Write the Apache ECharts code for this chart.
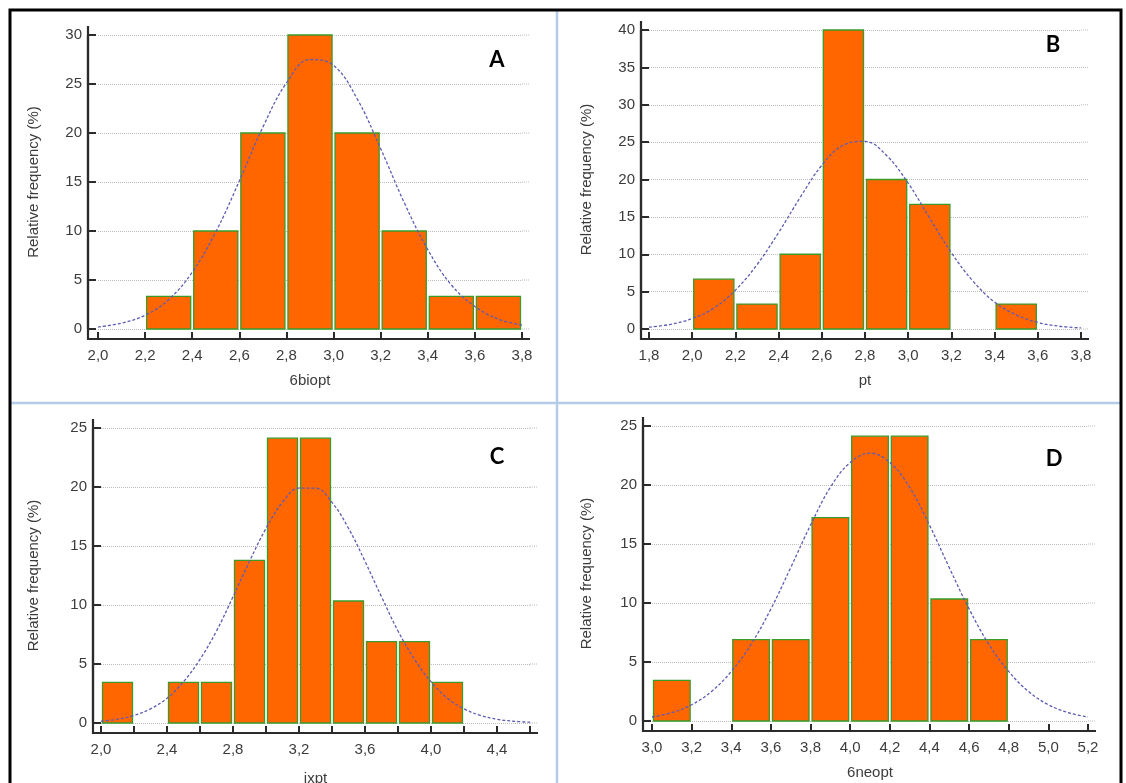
<!DOCTYPE html>
<html>
<head>
<meta charset="utf-8">
<script src="https://cdn.jsdelivr.net/npm/echarts@6/dist/echarts.min.js"></script>
<style>
html,body{margin:0;padding:0;background:#ffffff;}
#c{width:1126px;height:783px;}
</style>
</head>
<body>
<div id="c"></div>
<script>
// ---------------- DATA ----------------
var yAxisName = 'Relative frequency (%)';

// Panel A : 6biopt
var binStartsA = [2.2, 2.4, 2.6, 2.8, 3.0, 3.2, 3.4, 3.6];
var freqA      = [3.33, 10, 20, 30, 20, 10, 3.33, 3.33];
var curveXA = [2.0,2.1,2.2,2.3,2.4,2.5,2.6,2.7,2.8,2.9,3.0,3.1,3.2,3.3,3.4,3.5,3.6,3.7,3.8];
var curveYA = [0.2,0.6,1.4,3.0,5.8,9.9,15.1,20.6,25.1,27.5,26.9,23.5,18.4,12.9,8.1,4.5,2.3,1.0,0.4];

// Panel B : pt
var binStartsB = [2.0, 2.2, 2.4, 2.6, 2.8, 3.0, 3.4];
var freqB      = [6.67, 3.33, 10, 40, 20, 16.67, 3.33];
var curveXB = [1.8,1.9,2.0,2.1,2.2,2.3,2.4,2.5,2.6,2.7,2.8,2.9,3.0,3.1,3.2,3.3,3.4,3.5,3.6,3.7,3.8];
var curveYB = [0.26,0.62,1.4,2.8,5.2,8.6,12.9,17.6,21.9,24.6,25.1,23.2,19.5,14.8,10.2,6.4,3.6,1.9,0.87,0.37,0.14];

// Panel C : ixpt
var binStartsC = [2.0, 2.4, 2.6, 2.8, 3.0, 3.2, 3.4, 3.6, 3.8, 4.0];
var freqC      = [3.45, 3.45, 3.45, 13.79, 24.14, 24.14, 10.34, 6.90, 6.90, 3.45];
var curveXC = [2.0,2.1,2.2,2.3,2.4,2.5,2.6,2.7,2.8,2.9,3.0,3.1,3.2,3.3,3.4,3.5,3.6,3.7,3.8,3.9,4.0,4.1,4.2,4.3,4.4,4.5,4.6];
var curveYC = [0.15,0.32,0.64,1.2,2.1,3.5,5.4,7.8,10.7,13.7,16.5,18.7,19.9,19.9,18.7,16.5,13.7,10.7,7.8,5.4,3.5,2.1,1.2,0.64,0.32,0.15,0.07];

// Panel D : 6neopt
var binStartsD = [3.0, 3.4, 3.6, 3.8, 4.0, 4.2, 4.4, 4.6];
var freqD      = [3.45, 6.90, 6.90, 17.24, 24.14, 24.14, 10.34, 6.90];
var curveXD = [3.0,3.1,3.2,3.3,3.4,3.5,3.6,3.7,3.8,3.9,4.0,4.1,4.2,4.3,4.4,4.5,4.6,4.7,4.8,4.9,5.0,5.1,5.2];
var curveYD = [0.34,0.71,1.38,2.5,4.2,6.5,9.5,13.0,16.6,19.8,21.9,22.7,21.9,19.8,16.6,13.0,9.5,6.5,4.2,2.5,1.38,0.71,0.34];

var binWidth = 0.2;

// ---------------- LAYOUT ----------------
var panels = [
  {letter:'A', xName:'6biopt', xMin:2.0, xMax:3.8, yMax:30, labelEvery:2,
   bins:binStartsA, freq:freqA, cx:curveXA, cy:curveYA,
   grid:{left:98, top:35, width:424, height:294}, yOff:10, xOff:10, yGap:47, xGap:34, letterPos:[497,60]},
  {letter:'B', xName:'pt', xMin:1.8, xMax:3.8, yMax:40, labelEvery:2,
   bins:binStartsB, freq:freqB, cx:curveXB, cy:curveYB,
   grid:{left:649, top:30, width:432, height:299}, yOff:8, xOff:10, yGap:47, xGap:34, letterPos:[1053,45]},
  {letter:'C', xName:'ixpt', xMin:2.0, xMax:4.6, yMax:25, labelEvery:4,
   bins:binStartsC, freq:freqC, cx:curveXC, cy:curveYC,
   grid:{left:101, top:428, width:429, height:295}, yOff:8, xOff:10, yGap:52, xGap:38, letterPos:[497,457]},
  {letter:'D', xName:'6neopt', xMin:3.0, xMax:5.2, yMax:25, labelEvery:2,
   bins:binStartsD, freq:freqD, cx:curveXD, cy:curveYD,
   grid:{left:652, top:426, width:436, height:295}, yOff:9, xOff:10, yGap:49, xGap:34, letterPos:[1054,459]}
];

var FONT = '"Liberation Sans", Arial, sans-serif';
var TXT = '#3c3c3c';
var AXC = '#2b2b2b';
var GRIDC = '#bdbdbd';

var grids = [], xAxes = [], yAxes = [], series = [];

function renderBar(params, api) {
  var p0 = api.coord([api.value(0), api.value(2)]);
  var p1 = api.coord([api.value(1), 0]);
  return {
    type: 'rect',
    shape: {x: p0[0] + 1.5, y: p0[1], width: p1[0] - p0[0] - 3, height: p1[1] - p0[1]},
    style: {fill: '#FF6600', stroke: '#3a9a2a', lineWidth: 1.3}
  };
}

panels.forEach(function (p, i) {
  grids.push({left: p.grid.left, top: p.grid.top, width: p.grid.width, height: p.grid.height,
    containLabel: false, outerBoundsMode: 'none'});
  xAxes.push({
    type: 'value', gridIndex: i, min: p.xMin, max: p.xMax, interval: 0.2,
    offset: p.xOff,
    name: p.xName, nameLocation: 'middle', nameGap: p.xGap,
    nameTextStyle: {fontFamily: FONT, fontSize: 15, color: TXT},
    axisLine: {show: true, onZero: false, lineStyle: {color: AXC, width: 2.2}},
    axisTick: {show: true, inside: true, length: 7, lineStyle: {color: AXC, width: 2}},
    axisLabel: {
      fontFamily: FONT, fontSize: 15, color: TXT, margin: 9, showMaxLabel: true, showMinLabel: true,
      formatter: (function (every) {
        return function (v) {
          var k = Math.round(v * 10);
          if (k % every !== 0) return '';
          return (k / 10).toFixed(1).replace('.', ',');
        };
      })(p.labelEvery)
    },
    splitLine: {show: false}
  });
  yAxes.push({
    type: 'value', gridIndex: i, min: 0, max: p.yMax, interval: 5,
    offset: p.yOff,
    name: yAxisName, nameLocation: 'middle', nameGap: p.yGap, nameRotate: 90,
    nameTextStyle: {fontFamily: FONT, fontSize: 15, color: TXT},
    axisLine: {show: true, onZero: false, lineStyle: {color: AXC, width: 2.2}},
    axisTick: {show: true, inside: true, length: 8, lineStyle: {color: AXC, width: 2}},
    axisLabel: {fontFamily: FONT, fontSize: 15, color: TXT, margin: 6},
    splitLine: {show: true, lineStyle: {color: GRIDC, width: 1, type: [1, 1]}}
  });
  var barData = p.bins.map(function (s, j) {
    return [s, Math.round((s + binWidth) * 10) / 10, p.freq[j]];
  });
  series.push({
    type: 'custom', xAxisIndex: i, yAxisIndex: i, renderItem: renderBar,
    encode: {x: [0, 1], y: 2}, data: barData, z: 2, silent: true
  });
  series.push({
    type: 'line', xAxisIndex: i, yAxisIndex: i, smooth: 0.4, showSymbol: false, symbol: 'none',
    lineStyle: {color: '#5c5cb5', width: 1.3, type: [3, 2]},
    data: p.cx.map(function (x, j) { return [x, p.cy[j]]; }), z: 3, silent: true
  });
});

var chart = echarts.init(document.getElementById('c'));
chart.setOption({
  animation: false,
  backgroundColor: '#ffffff',
  grid: grids, xAxis: xAxes, yAxis: yAxes, series: series
});

// ---------------- DECORATION (frame, dividers, axis corner extensions, letters) ----------------
var graphic = [];
graphic.push({type: 'rect', shape: {x: 10, y: 10, width: 1111, height: 790},
  style: {fill: 'none', stroke: '#000000', lineWidth: 3}, z: 10});
graphic.push({type: 'line', shape: {x1: 557, y1: 11, x2: 557, y2: 783},
  style: {stroke: '#b4cce6', lineWidth: 2.5}, z: 9});
graphic.push({type: 'line', shape: {x1: 11, y1: 403, x2: 1120, y2: 403},
  style: {stroke: '#b4cce6', lineWidth: 2.5}, z: 9});

panels.forEach(function (p, i) {
  var bl = chart.convertToPixel({gridIndex: i}, [p.xMin, 0]);
  var tl = chart.convertToPixel({gridIndex: i}, [p.xMin, p.yMax]);
  var br = chart.convertToPixel({gridIndex: i}, [p.xMax, 0]);
  var ax = bl[0] - p.yOff, ay = bl[1] + p.xOff;
  graphic.push({type: 'polyline', shape: {points: [[ax, tl[1] - 9], [ax, ay], [br[0] + 8, ay]]},
    style: {stroke: AXC, lineWidth: 2.2, fill: 'none'}, z: 5});
  for (var v = 0; v <= p.yMax; v += 5) {
    var pt = chart.convertToPixel({gridIndex: i}, [p.xMax, v]);
    graphic.push({type: 'line', shape: {x1: pt[0], y1: pt[1], x2: pt[0] + 8, y2: pt[1]},
      style: {stroke: GRIDC, lineWidth: 1, lineDash: [1, 1]}, z: 1});
  }
  graphic.push({type: 'text', x: p.letterPos[0], y: p.letterPos[1],
    style: {text: p.letter, font: 'bold 22px Lato, "Open Sans", sans-serif', fill: '#000000',
      align: 'center', verticalAlign: 'middle'}, z: 6});
});

chart.setOption({graphic: graphic});
</script>
</body>
</html>
